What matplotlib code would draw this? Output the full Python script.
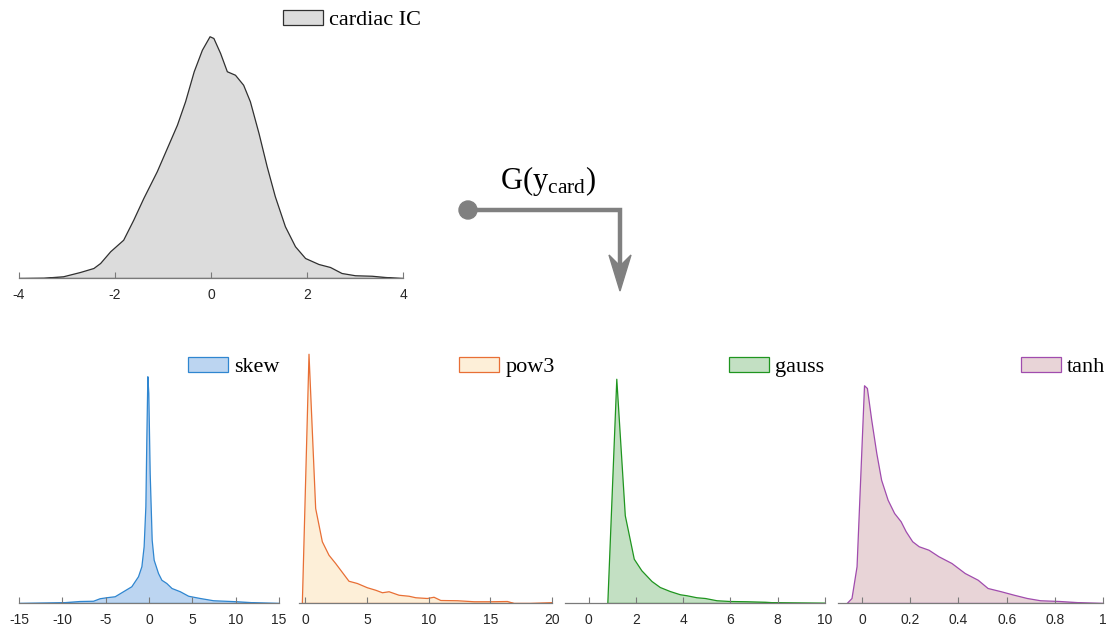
import matplotlib
matplotlib.use("Agg")
import matplotlib.pyplot as plt
from matplotlib.patches import Circle, Polygon

plt.rcParams['font.family'] = ['Liberation Sans', 'DejaVu Sans']
plt.rcParams['mathtext.fontset'] = 'custom'
plt.rcParams['mathtext.rm'] = 'Liberation Serif'

# estimated densities (relative units) of the source IC and its contrast functions
card_x = [-4, -3.91, -3.49, -3.08, -2.73, -2.45, -2.31, -2.10, -1.83, -1.62, -1.41, -1.13,
          -0.92, -0.71, -0.54, -0.36, -0.19, -0.03, 0.05, 0.19, 0.33, 0.5, 0.67, 0.81, 0.99,
          1.16, 1.33, 1.54, 1.75, 1.96, 2.24, 2.48, 2.72, 3.0, 3.35, 3.63, 3.97, 4]
card_y = [0, 0, 0.001, 0.007, 0.024, 0.04, 0.06, 0.107, 0.153, 0.233, 0.32, 0.427,
          0.52, 0.613, 0.707, 0.827, 0.913, 0.967, 0.96, 0.9, 0.827, 0.813, 0.773, 0.707, 0.58,
          0.447, 0.327, 0.207, 0.127, 0.08, 0.056, 0.044, 0.02, 0.011, 0.009, 0.004, 0, 0]

skew_x = [-15, -9.95, -8.0, -6.46, -5.7, -4.93, -3.96, -3.0, -2.04, -1.27, -0.88, -0.62,
          -0.42, -0.31, -0.19, -0.08, 0.08, 0.31, 0.54, 1.04, 1.43, 2.0, 2.6, 3.56, 4.52,
          5.87, 7.4, 10.1, 12.0, 15]
skew_y = [0, 0.003, 0.008, 0.009, 0.019, 0.023, 0.027, 0.047, 0.067, 0.107, 0.147, 0.227,
          0.387, 0.653, 0.907, 0.84, 0.52, 0.253, 0.173, 0.12, 0.093, 0.08, 0.06, 0.047,
          0.029, 0.02, 0.011, 0.007, 0.003, 0]

pow3_x = [-0.27, 0.27, 0.81, 1.35, 1.89, 2.43, 3.51, 4.19, 5.0, 5.68, 6.22, 6.76, 7.57,
          8.38, 8.92, 9.86, 10.4, 10.95, 12.3, 13.65, 15.0, 16.35, 16.9, 18.2, 20]
pow3_y = [0, 0.997, 0.38, 0.247, 0.193, 0.16, 0.089, 0.08, 0.063, 0.053, 0.043, 0.047,
          0.033, 0.029, 0.023, 0.02, 0.025, 0.012, 0.011, 0.007, 0.007, 0.008, 0.0, 0.0, 0.003]

gauss_x = [0.79, 1.17, 1.53, 1.91, 2.23, 2.66, 3.01, 3.43, 3.86, 4.14, 4.56, 4.92, 5.41,
           5.97, 6.68, 7.46, 7.81, 10]
gauss_y = [0, 0.897, 0.351, 0.177, 0.131, 0.088, 0.064, 0.048, 0.035, 0.031, 0.023, 0.02,
           0.011, 0.008, 0.007, 0.005, 0.003, 0.001]

tanh_x = [-0.064, -0.044, -0.023, -0.007, 0.008, 0.02, 0.038, 0.059, 0.079, 0.106, 0.133,
          0.16, 0.181, 0.208, 0.235, 0.276, 0.317, 0.371, 0.426, 0.48, 0.521, 0.576, 0.63,
          0.684, 0.739, 0.82, 0.902, 1.0]
tanh_y = [0, 0.02, 0.147, 0.52, 0.871, 0.86, 0.733, 0.6, 0.493, 0.413, 0.36, 0.327, 0.287,
          0.247, 0.227, 0.213, 0.187, 0.16, 0.12, 0.093, 0.06, 0.047, 0.033, 0.02, 0.011,
          0.008, 0.003, 0]

W, H = 1107, 626
fig = plt.figure(figsize=(W / 100, H / 100), dpi=100)


def px_axes(x0, x1, base, h=250):
    # axes placed in pixel units measured from the top-left corner
    return fig.add_axes([x0 / W, 1 - base / H, (x1 - x0) / W, h / H])


def density_panel(ax, x, y, xlim, ticks, ticklabels, face, edge, label, leg_xy):
    ax.fill_between(x, y, 0, facecolor=face, edgecolor=edge, linewidth=0.9, label=label)
    ax.set_xlim(*xlim)
    ax.set_ylim(0, 1)
    ax.set_xticks(ticks)
    ax.set_xticklabels(ticklabels)
    ax.set_yticks([])
    for s in ['top', 'right', 'left']:
        ax.spines[s].set_visible(False)
    ax.spines['bottom'].set_color('#7a7a7a')
    ax.spines['bottom'].set_linewidth(0.9)
    ax.tick_params(axis='x', direction='in', length=4, width=0.8, color='#7a7a7a',
                   labelsize=10, labelcolor='#262626', pad=7)
    ax.patch.set_visible(False)
    ax.legend(loc='center right', bbox_to_anchor=(leg_xy[0] / W, 1 - leg_xy[1] / H),
              bbox_transform=fig.transFigure, frameon=False, borderpad=0,
              borderaxespad=0, handlelength=1.8, handleheight=0.63, handletextpad=0.28,
              prop={'family': 'Liberation Serif', 'size': 16})


ax0 = px_axes(19, 403, 278)
density_panel(ax0, card_x, card_y, (-4, 4), [-4, -2, 0, 2, 4],
              ['-4', '-2', '0', '2', '4'], '#dcdcdc', '#303030', 'cardiac IC', (421, 20))

ax1 = px_axes(19, 279, 603)
density_panel(ax1, skew_x, skew_y, (-15, 15), [-15, -10, -5, 0, 5, 10, 15],
              ['-15', '-10', '-5', '0', '5', '10', '15'], '#bcd5f1', '#2f86d0', 'skew', (280, 367))

ax2 = px_axes(299, 552, 603)
density_panel(ax2, pow3_x, pow3_y, (-0.5, 20), [0, 5, 10, 15, 20],
              ['0', '5', '10', '15', '20'], '#fdefd8', '#e86f35', 'pow3', (555, 367))

ax3 = px_axes(565, 825, 603)
density_panel(ax3, gauss_x, gauss_y, (-1, 10), [0, 2, 4, 6, 8, 10],
              ['0', '2', '4', '6', '8', '10'], '#c3e0c3', '#1f951f', 'gauss', (824, 367))

ax4 = px_axes(838, 1103, 603)
density_panel(ax4, tanh_x, tanh_y, (-0.1, 1), [0, 0.2, 0.4, 0.6, 0.8, 1],
              ['0', '0.2', '0.4', '0.6', '0.8', '1'], '#e8d4d7', '#a04cae', 'tanh', (1105, 367))

# overlay for the transform arrow, in pixel coordinates
ov = fig.add_axes([0, 0, 1, 1])
ov.set_xlim(0, W)
ov.set_ylim(H, 0)
ov.axis('off')
ov.patch.set_visible(False)
gray = '#808080'
ov.plot([467, 620, 620], [210, 210, 266], color=gray, linewidth=3.2,
        solid_joinstyle='miter', solid_capstyle='butt')
ov.add_patch(Circle((468, 210), 9, color=gray))
ov.add_patch(Polygon([[609, 255], [620, 266], [631, 255], [620, 291]], closed=True,
                     color=gray))
ov.text(548, 181, r'$\mathrm{G(y_{card})}$', fontsize=22, ha='center', va='center')

fig.savefig('out.png', dpi=100)
